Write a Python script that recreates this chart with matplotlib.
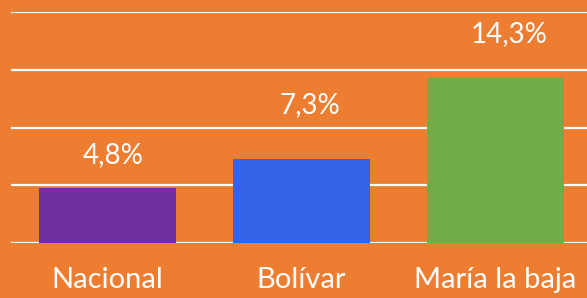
import matplotlib
matplotlib.use("Agg")
import matplotlib.pyplot as plt

categories = ["Nacional", "Bolívar", "María la baja"]
values = [4.8, 7.3, 14.3]
value_labels = ["4,8%", "7,3%", "14,3%"]
bar_colors = ["#7030A0", "#3562E8", "#70AD47"]
bg = "#ED7D31"

# per-label offsets (points) for value labels
label_dx = [4, 6, 10]
label_dy = [14, 29, 22]

fig = plt.figure(figsize=(5.87, 2.98), dpi=100)
fig.patch.set_facecolor(bg)
ax = fig.add_axes([10.5/587, 55/298, 582/587, 231/298])
ax.set_facecolor(bg)

x = list(range(len(categories)))
ax.bar(x, values, width=0.706, color=bar_colors, zorder=3)
ax.set_xlim(-0.5, 2.5)
ax.set_ylim(0, 20)
ax.set_yticks([0, 5, 10, 15, 20])
ax.yaxis.grid(True, color="white", linewidth=1.6, zorder=1)
ax.tick_params(left=False, bottom=False, labelleft=False)
for s in ax.spines.values():
    s.set_visible(False)
ax.set_xticks(x)
ax.set_xticklabels(categories, fontsize=21, color="white", family="Lato")
ax.tick_params(axis="x", pad=14)

for i, (v, lab) in enumerate(zip(values, value_labels)):
    ax.annotate(lab, (i, v), xytext=(label_dx[i], label_dy[i]), textcoords="offset points",
                ha="center", va="bottom", fontsize=20, color="white",
                family="Lato", clip_on=False)

fig.savefig("out.png", dpi=100, facecolor=bg)
